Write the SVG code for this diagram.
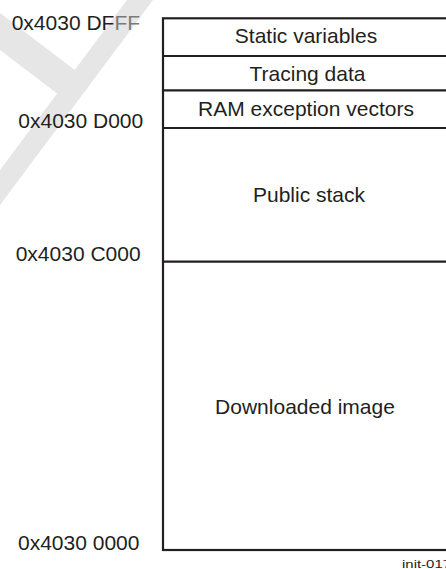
<svg xmlns="http://www.w3.org/2000/svg" width="446" height="569" viewBox="0 0 446 569">
<style>
.t{font-family:"Liberation Sans",Arial,sans-serif;font-size:21px;fill:#231f20}
.c{text-anchor:middle}
.ln{stroke:#231f20;stroke-width:2.2;fill:none}
</style>
<rect width="446" height="569" fill="#ffffff"/>
<g id="watermark">
<polygon points="0,13 74.7,70 127,0 153,0 0,205 0,170 57.1,93.6 0,50" fill="#e6e6e6"/>
</g>
<g id="connectors">
<rect class="ln" x="163" y="18.3" width="286" height="531.7"/>
<line class="ln" x1="163" y1="56" x2="449" y2="56"/>
<line class="ln" x1="163" y1="90.3" x2="449" y2="90.3"/>
<line class="ln" x1="163" y1="128" x2="449" y2="128"/>
<line class="ln" x1="163" y1="261.7" x2="449" y2="261.7"/>
</g>
<g id="static-variables"><text class="t c" x="306" y="43">Static variables</text></g>
<g id="tracing-data"><text class="t c" x="307.5" y="80.5">Tracing data</text></g>
<g id="ram-exception-vectors"><text class="t c" x="306" y="116">RAM exception vectors</text></g>
<g id="public-stack"><text class="t c" x="309" y="202">Public stack</text></g>
<g id="downloaded-image"><text class="t c" x="305" y="414">Downloaded image</text></g>
<g id="addr-dfff"><text class="t" x="11.7" y="30">0x4030 DF<tspan fill="#7a7a7a">FF</tspan></text></g>
<g id="addr-d000"><text class="t" x="18.3" y="128">0x4030 D000</text></g>
<g id="addr-c000"><text class="t" x="15.7" y="260.5">0x4030 C000</text></g>
<g id="addr-0000"><text class="t" x="18" y="550">0x4030 0000</text></g>
<g id="figure-id"><text class="t" x="402" y="568" style="font-size:11.5px" textLength="49" lengthAdjust="spacingAndGlyphs">init-017</text></g>
</svg>
